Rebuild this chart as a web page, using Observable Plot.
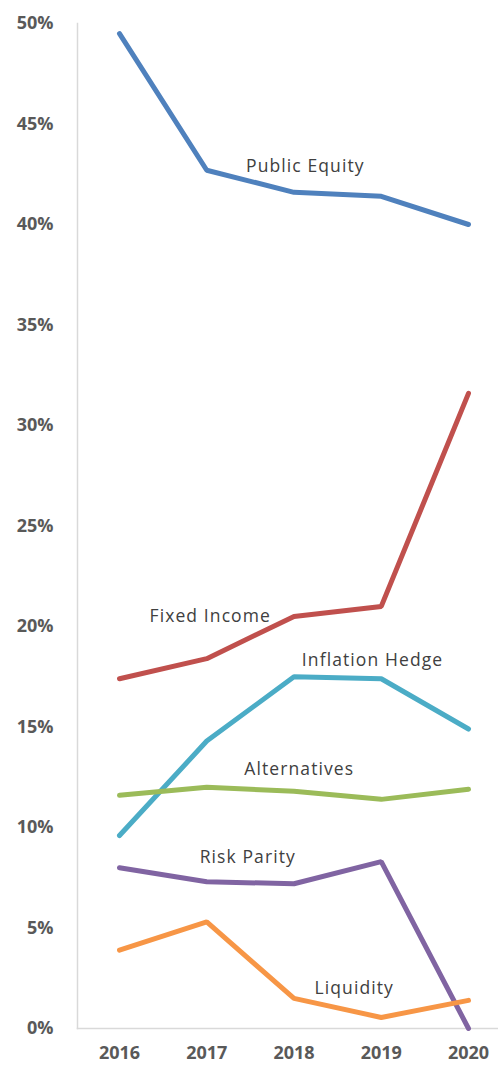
<!DOCTYPE html>
<html>
<head>
<meta charset="utf-8">
<script src="https://cdn.jsdelivr.net/npm/d3@7"></script>
<script src="https://cdn.jsdelivr.net/npm/@observablehq/plot@0.6"></script>
<style>
  html, body { margin: 0; padding: 0; background: #fff; }
  #chart svg { display: block; }
  .series-label text { letter-spacing: 1.1px; }
</style>
</head>
<body>
<div id="chart"></div>
<script>
const years = [2016, 2017, 2018, 2019, 2020];
const seriesNames = ["Public Equity", "Fixed Income", "Inflation Hedge", "Alternatives", "Risk Parity", "Liquidity"];
const publicEquity   = [49.5, 42.7, 41.6, 41.4, 40.0];
const fixedIncome    = [17.4, 18.4, 20.5, 21.0, 31.6];
const inflationHedge = [9.6, 14.3, 17.5, 17.4, 14.9];
const alternatives   = [11.6, 12.0, 11.8, 11.4, 11.9];
const riskParity     = [8.0, 7.3, 7.2, 8.3, 0.0];
const liquidity      = [3.9, 5.3, 1.5, 0.55, 1.4];
const seriesColors = ["#4F81BD", "#C0504D", "#4BACC6", "#9BBB59", "#8064A2", "#F79646"];
const yTicks = [0, 5, 10, 15, 20, 25, 30, 35, 40, 45, 50];
// label anchor positions (in data units: year, percent)
const labelX = [2018.13, 2017.04, 2018.9, 2018.06, 2017.47, 2018.69];
const labelY = [42.9, 20.5, 18.3, 12.9, 8.5, 2.0];

const allValues = [publicEquity, fixedIncome, inflationHedge, alternatives, riskParity, liquidity];
const rows = [];
seriesNames.forEach((name, i) => {
  years.forEach((yr, j) => rows.push({series: name, year: yr, value: allValues[i][j]}));
});
const labels = seriesNames.map((name, i) => ({series: name, x: labelX[i], y: labelY[i]}));

const chart = Plot.plot({
  width: 498,
  height: 1065,
  marginLeft: 77,
  marginRight: 0,
  marginTop: 23,
  marginBottom: 37,
  style: {background: "#fff"},
  x: {type: "linear", domain: [2016, 2020], range: [119, 468]},
  y: {domain: [0, 50]},
  color: {domain: seriesNames, range: seriesColors},
  marks: [
    Plot.frame({anchor: "left", stroke: "#d9d9d9", strokeWidth: 1.5}),
    Plot.frame({anchor: "bottom", stroke: "#d9d9d9", strokeWidth: 1.5}),
    Plot.axisY({ticks: yTicks, tickSize: 0, tickPadding: 24, tickFormat: d => d + "%",
      fontSize: 18, fontWeight: "bold", fill: "#595959", fontFamily: "Open Sans", label: null}),
    Plot.axisX({ticks: years, tickSize: 0, tickPadding: 18, tickFormat: d => String(d),
      fontSize: 18, fontWeight: "bold", fill: "#595959", fontFamily: "Open Sans", label: null}),
    Plot.line(rows, {x: "year", y: "value", z: "series", stroke: "series", strokeWidth: 5,
      strokeLinejoin: "miter", strokeLinecap: "round"}),
    Plot.text(labels, {x: "x", y: "y", text: "series", fontSize: 17.5, fill: "#404040",
      fontFamily: "Open Sans", textAnchor: "middle", className: "series-label"})
  ]
});
document.getElementById("chart").appendChild(chart);
</script>
</body>
</html>
